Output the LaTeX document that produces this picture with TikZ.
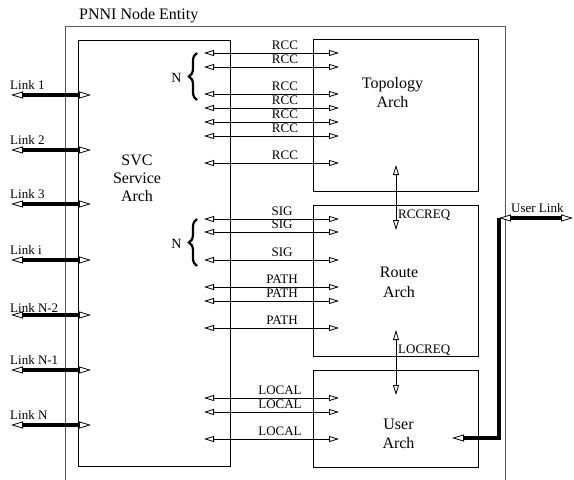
\documentclass[tikz,border=0pt]{standalone}
\usepackage{fontspec}
\setmainfont{Liberation Serif}
\usetikzlibrary{arrows.meta,decorations.pathreplacing}
\begin{document}
\begin{tikzpicture}[x=1pt,y=-1pt,
  otri/.tip={Triangle[open,fill=white,length=10pt,width=6pt,line width=0.8pt]},
  otrib/.tip={Triangle[open,fill=white,length=12pt,width=7pt,line width=0.8pt]},
  box/.style={draw=black,line width=0.8pt,rectangle,inner sep=0pt,outer sep=0pt},
  outerbox/.style={draw=black!65,line width=0.9pt,rectangle,inner sep=0pt,outer sep=0pt},
  big/.style={font=\fontsize{16}{19}\selectfont,inner sep=0pt,anchor=base},
  small/.style={font=\fontsize{13}{15}\selectfont,inner sep=0pt},
  thinarr/.style={line width=0.8pt,otri-otri},
  thickarr/.style={line width=3.5pt,otrib-otrib},
  bracesty/.style={decorate,decoration={brace,amplitude=8pt},line width=2.2pt},
]
\useasboundingbox (0,0) rectangle (574,480);
% boxes
\node[outerbox,minimum width=440pt,minimum height=470pt] (outer) at (285,261) {};
\node[box,minimum width=152pt,minimum height=426pt] (svc) at (154,253) {};
\node[box,minimum width=165pt,minimum height=152pt] (topo) at (395.5,115) {};
\node[box,minimum width=165pt,minimum height=151pt] (route) at (395.5,280.5) {};
\node[box,minimum width=165pt,minimum height=97pt] (user) at (395.5,418.5) {};
% title
\node[font=\fontsize{16}{19}\selectfont,inner sep=0pt,anchor=base west] (title) at (79,19) {PNNI Node Entity};
% box texts
\node[big] (svc1) at (137,165) {SVC};
\node[big] (svc2) at (137,183) {Service};
\node[big] (svc3) at (137,201) {Arch};
\node[big] (topo1) at (392.5,88) {Topology};
\node[big] (topo2) at (392.5,107) {Arch};
\node[big] (route1) at (399,277) {Route};
\node[big] (route2) at (399,297) {Arch};
\node[big] (user1) at (398.5,429) {User};
\node[big] (user2) at (398.5,448) {Arch};
% links
\foreach \y/\t/\d [count=\i] in {95/Link 1/6,150/Link 2/6,204/Link 3/6,260/Link i/6,315/Link N-2/3,370/Link N-1/6,425/Link N/6}{
  \coordinate (la\i) at (11,\y);
  \coordinate (lb\i) at (91,\y);
  \draw[thickarr] (la\i) -- (lb\i);
  \node[small,anchor=base west] (lt\i) at (10,\y-\d) {\t};
}
% horizontal arrows between SVC and the other boxes
\foreach \y/\t/\x [count=\i] in {53/RCC/285,67/RCC/285,94/RCC/285,108/RCC/285,122/RCC/285,136/RCC/285,163/RCC/285,
  219/SIG/282,232/SIG/282,260/SIG/282,287/PATH/282,301/PATH/282,328/PATH/282,
  398/LOCAL/280,412/LOCAL/280,439/LOCAL/280}{
  \coordinate (ha\i) at (204,\y);
  \coordinate (hb\i) at (339,\y);
  \draw[thinarr] (ha\i) -- (hb\i);
  \node[small,anchor=base] (ht\i) at (\x,\y-4) {\t};
}
% braces
\coordinate (br1a) at (197,100);
\coordinate (br1b) at (197,53);
\draw[bracesty] (br1a) -- (br1b);
\node[font=\fontsize{14}{16}\selectfont,inner sep=0pt,anchor=base] (n1) at (176.5,82) {N};
\coordinate (br2a) at (197,266);
\coordinate (br2b) at (197,219);
\draw[bracesty] (br2a) -- (br2b);
\node[font=\fontsize{14}{16}\selectfont,inner sep=0pt,anchor=base] (n2) at (176.5,248) {N};
% vertical arrows
\coordinate (va1) at (396,165);
\coordinate (vb1) at (396,230);
\draw[thinarr] (va1) -- (vb1);
\node[small,anchor=base west] (rccreq) at (398,218) {RCCREQ};
\coordinate (va2) at (396,330);
\coordinate (vb2) at (396,395);
\draw[thinarr] (va2) -- (vb2);
\node[small,anchor=base west] (locreq) at (398,353) {LOCREQ};
% user link
\coordinate (ula) at (499,218);
\coordinate (ulb) at (573,218);
\coordinate (ulc) at (499,218);
\coordinate (uld) at (452,438);
\draw[line width=3.5pt,-otrib] (ulc) |- (uld);
\draw[thickarr] (ula) -- (ulb);
\node[small,anchor=base west] (ultext) at (511,212) {User Link};
\end{tikzpicture}
\end{document}
